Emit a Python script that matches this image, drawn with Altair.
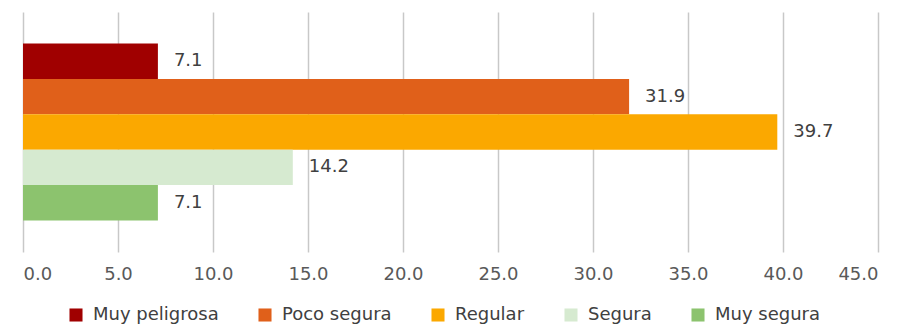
import altair as alt
import pandas as pd

categories = ["Muy peligrosa", "Poco segura", "Regular", "Segura", "Muy segura"]
values = [7.1, 31.9, 39.7, 14.2, 7.1]
colors = ["#A00000", "#E0601A", "#FBA800", "#D6EAD0", "#8CC36E"]
ticks = [0, 5, 10, 15, 20, 25, 30, 35, 40, 45]

df = pd.DataFrame({"cat": categories, "val": values})

FONT = "DejaVu Sans"

x = alt.X("val:Q", scale=alt.Scale(domain=[0, 45], nice=False, zero=True),
          axis=alt.Axis(values=ticks, format=".1f", title=None, domain=False,
                        ticks=False, grid=True, gridColor="#C8C8C8", gridWidth=1.5,
                        labelFont=FONT, labelFontSize=18, labelColor="#595959",
                        labelPadding=13))
y = alt.Y("cat:N", sort=categories, axis=None,
          scale=alt.Scale(paddingInner=0.0, paddingOuter=0.89))

bars = alt.Chart(df).mark_bar().encode(
    x=x, y=y,
    color=alt.Color("cat:N", sort=categories,
                    scale=alt.Scale(domain=categories, range=colors),
                    legend=alt.Legend(title=None, orient="none", direction="horizontal",
                                      legendX=44, legendY=294, symbolType="square",
                                      symbolSize=170, symbolStrokeWidth=0,
                                      labelFont=FONT, labelFontSize=18,
                                      labelColor="#404040", columnPadding=37,
                                      labelOffset=8)),
)

labels = alt.Chart(df).mark_text(align="left", baseline="middle", dx=16,
                                 font=FONT, fontSize=18, color="#404040").encode(
    x="val:Q", y=alt.Y("cat:N", sort=categories),
    text=alt.Text("val:Q", format=".1f"),
)

chart = (bars + labels).properties(
    width=855, height=240,
    autosize=alt.AutoSizeParams(type="none"),
    padding={"left": 23, "top": 12, "right": 26, "bottom": 76},
).configure_view(stroke=None)

chart.save("out.html", embed_options={"renderer": "svg", "actions": False})
